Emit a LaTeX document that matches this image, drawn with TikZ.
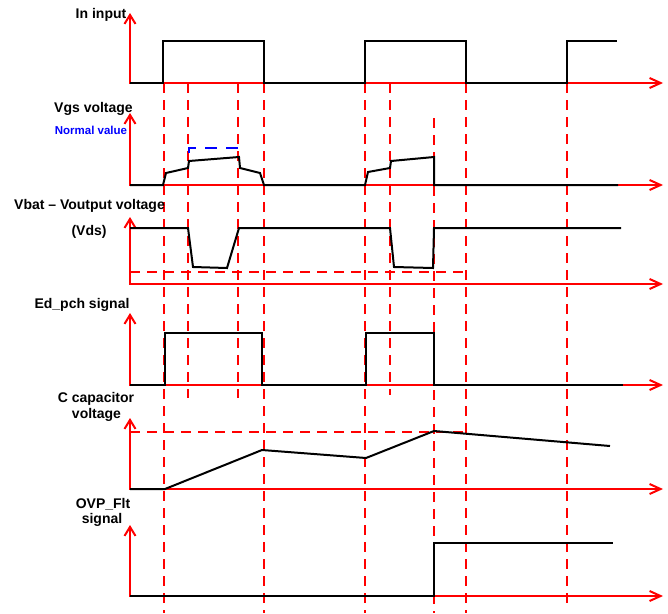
\documentclass[tikz,border=0pt]{standalone}
\usepackage{fontspec}
\setmainfont{Liberation Sans}
\usetikzlibrary{arrows.meta}
\tikzset{
        axis/.style={draw=red, line width=2pt,
          {Straight Barb[length=9pt,width=11pt]}-{Straight Barb[length=11pt,width=10pt]}}, % red axes, open heads
        guide/.style={draw=red, line width=2pt, dash pattern=on 10pt off 7pt}, % red dashed guide lines
        wave/.style={draw=black, line width=2pt}, % the signals
        nominal/.style={draw=blue, line width=1.5pt, dash pattern=on 12pt off 9pt}, % normal value band
    }
\tikzset{
      lbl/.style={
		font=\fontsize{14}{16}\selectfont\bfseries,
		inner sep=0pt,
		anchor=base,
	  },
  		small lbl/.style={
    	lbl, text=blue,
    	font=\fontsize{11.5}{13}\selectfont\bfseries,
      }
  	}

\begin{document}
\begin{tikzpicture}[x=1pt, y=-1pt]
    \useasboundingbox (0,0) rectangle (668,613);
    % dashed guides
    \foreach \x/\a/\b in {164/83/613, 188/83/398, 238/83/398, 264/83/613,
                          365/83/613, 390/83/395, 434/118/613, 466/83/613, 567/83/607}
      \draw [guide] (\x,\a) -- (\x,\b);
    \draw [guide] (130,272) -- (470,272);
    \draw [guide] (130,432) -- (470,432);
    % axes
    \foreach \y/\t in {83/13, 185/113, 284/217, 385/313, 489/418, 596/525}
      \draw [axis] (130,\t) |- (663,\y);
    % labels
    \node [lbl] (in) at (101,18) {In input};
    \node [lbl] (vgs) at (93.5,112) {Vgs voltage};
    \node [small lbl] (normal) at (91,134) {Normal value};
    \node [lbl] (vds) at (89.5,209) {Vbat – Voutput voltage};
    \node [lbl] (vds2) at (89,235) {(Vds)};
    \node [lbl] (ed) at (82,308) {Ed\_pch signal};
    \node [lbl] (cap) at (96,402) {C capacitor};
    \node [lbl] (cap2) at (96.5,418) {voltage};
    \node [lbl] (ovp) at (103,508) {OVP\_Flt};
    \node [lbl] (ovp2) at (102,523) {signal};
    % signals
    \draw [wave] (130,83) -- (163,83) -- (163,41) -- (264,41) -- (264,83) -- (365,83)
      -- (365,41) -- (466,41) -- (466,83) -- (567,83) -- (567,41) -- (617,41);
    \draw [wave] (130,185) -- (163,185) -- (166,173) -- (188,168) -- (189,161) -- (239,157)
      -- (240,168) -- (260,173) -- (264,185) -- (365,185) -- (368,172) -- (390,168)
      -- (391,161) -- (434,157) -- (434,185) -- (618,185);
    \draw [nominal] (189,153) -- (189,148) -- (237,148) -- (237,153);
    \draw [wave] (130,228) -- (188,228) -- (193,267) -- (227,268) -- (239,228) -- (390,228)
      -- (394,267) -- (433,268) -- (434,228) -- (621,228);
    \draw [wave] (130,385) -- (165,385) -- (165,333) -- (262,333) -- (262,385) -- (366,385)
      -- (366,333) -- (434,333) -- (434,385) -- (623,385);
    \draw [wave] (130,489) -- (165,489) -- (262,450) -- (366,458) -- (434,431) -- (610,446);
    \draw [wave] (130,596) -- (434,596) -- (434,543) -- (613,543);
\end{tikzpicture}
\end{document}
